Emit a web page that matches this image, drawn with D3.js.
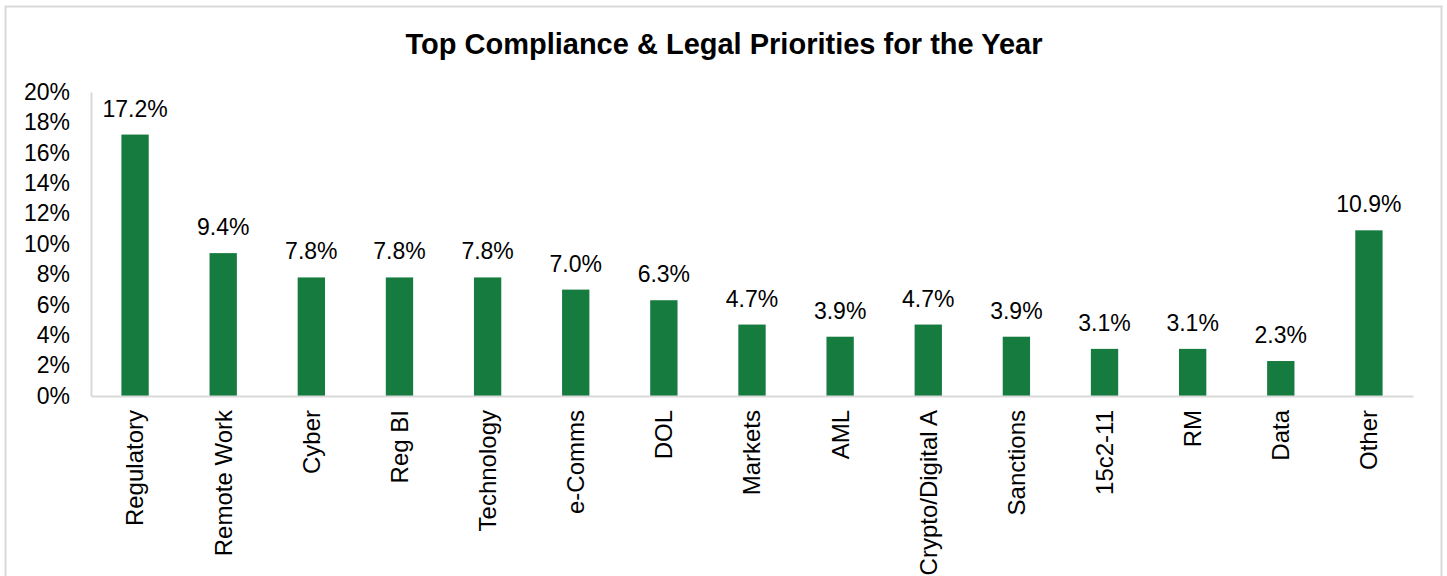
<!DOCTYPE html>
<html>
<head>
<meta charset="utf-8">
<script src="https://cdn.jsdelivr.net/npm/d3@7"></script>
<style>
  html, body { margin: 0; padding: 0; background: #fff; }
  svg { display: block; font-family: "Liberation Sans", Arial, sans-serif; }
</style>
</head>
<body>
<svg id="chart" width="1447" height="576"></svg>
<script>
// Share of respondents naming each area as a top priority (%)
const categories = ["Regulatory", "Remote Work", "Cyber", "Reg BI", "Technology", "e-Comms", "DOL",
  "Markets", "AML", "Crypto/Digital A", "Sanctions", "15c2-11", "RM", "Data", "Other"];
const values = [17.2, 9.4, 7.8, 7.8, 7.8, 7.0, 6.3, 4.7, 3.9, 4.7, 3.9, 3.1, 3.1, 2.3, 10.9];
const yTicks = [0, 2, 4, 6, 8, 10, 12, 14, 16, 18, 20];
const chartTitle = "Top Compliance & Legal Priorities for the Year";

const svg = d3.select("#chart");
const plot = { left: 91, right: 1413, top: 92, bottom: 396 };

// outer frame
svg.append("rect")
  .attr("x", 5.5).attr("y", 6.5)
  .attr("width", 1436).attr("height", 600)
  .attr("fill", "#fff").attr("stroke", "#d9d9d9").attr("stroke-width", 2);

svg.append("text")
  .attr("x", 724).attr("y", 54)
  .attr("text-anchor", "middle")
  .attr("font-size", 29).attr("font-weight", "bold").attr("fill", "#000")
  .text(chartTitle);

const x = d3.scaleBand().domain(categories).range([plot.left, plot.right]).paddingInner(0.69).paddingOuter(0.345);
const y = d3.scaleLinear().domain([0, 20]).range([plot.bottom, plot.top]);

// bars
svg.append("g").selectAll("rect")
  .data(categories)
  .join("rect")
  .attr("x", d => x(d))
  .attr("y", (d, i) => y(values[i]))
  .attr("width", x.bandwidth())
  .attr("height", (d, i) => y(0) - y(values[i]))
  .attr("fill", "#157b3e");

// value labels
svg.append("g").selectAll("text")
  .data(categories)
  .join("text")
  .attr("x", d => x(d) + x.bandwidth() / 2)
  .attr("y", (d, i) => y(values[i]) - 18)
  .attr("text-anchor", "middle")
  .attr("font-size", 23).attr("fill", "#000")
  .text((d, i) => values[i].toFixed(1) + "%");

// y axis
const yAxis = svg.append("g")
  .attr("transform", `translate(${plot.left},0)`)
  .call(d3.axisLeft(y).tickValues(yTicks).tickSize(0).tickPadding(21).tickFormat(d => d + "%"));
yAxis.select(".domain").attr("stroke", "#d9d9d9").attr("stroke-width", 2);
yAxis.selectAll("text").attr("font-size", 23).attr("fill", "#000").attr("font-family", "Liberation Sans, Arial, sans-serif");

// x axis
const xAxis = svg.append("g")
  .attr("transform", `translate(0,${plot.bottom})`)
  .call(d3.axisBottom(x).tickSize(0).tickPadding(0));
xAxis.select(".domain").attr("stroke", "#d9d9d9").attr("stroke-width", 2);
xAxis.selectAll("text")
  .attr("font-size", 24).attr("fill", "#000").attr("font-family", "Liberation Sans, Arial, sans-serif")
  .attr("text-anchor", "end")
  .attr("transform", "rotate(-90)")
  .attr("x", -14).attr("y", 0).attr("dy", "0.35em");
</script>
</body>
</html>
